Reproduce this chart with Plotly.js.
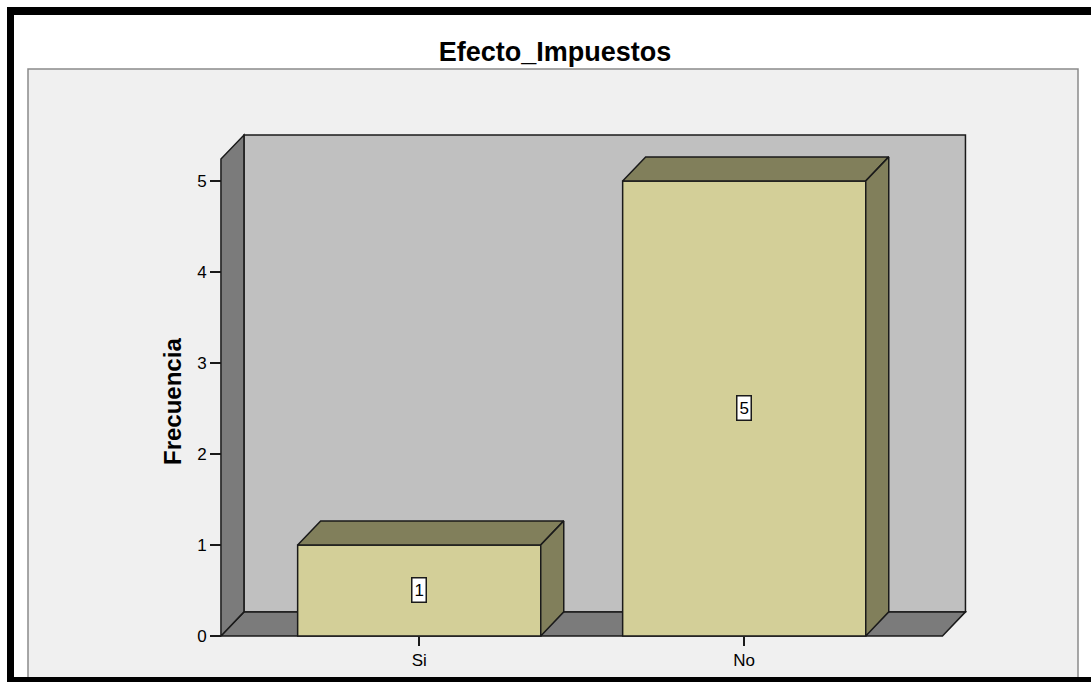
<!DOCTYPE html>
<html>
<head>
<meta charset="utf-8">
<script src="https://cdn.plot.ly/plotly-3.0.1.min.js"></script>
<style>
  html, body { margin: 0; padding: 0; background: #fff; }
  #chart { width: 1091px; height: 682px; }
</style>
</head>
<body>
<div id="chart"></div>
<script>
// Datos del grafico
const categorias = ['Si', 'No'];
const frecuencias = [1, 5];
const ticksY = [0, 1, 2, 3, 4, 5];

const colores = {
    frente: '#d3cf98',
    lado: '#817f5b',
    fondo: '#c0c0c0',
    pared: '#7b7b7b',
    marco: '#f0f0f0',
    borde: '#1a1a1a'
};
const fuente = 'Liberation Sans, Arial, sans-serif';

// geometria 3D (en unidades de los ejes)
const posiciones = categorias.map((c, i) => i);
const anchoBarra = 0.748;
const profX = 0.0708, profY = 0.264;
const xIni = -0.61, xFin = 1.61, yTope = 5.24;

// area del grafico en pixeles, para decoraciones en coordenadas "paper"
const m = { l: 219, r: 122, t: 132, b: 45 };
const anchoArea = 1091 - m.l - m.r, altoArea = 682 - m.t - m.b;
const px = x => (x - m.l) / anchoArea;
const py = y => (682 - m.b - y) / altoArea;

function poligono(puntos) {
    return 'M' + puntos.map(p => p[0] + ',' + p[1]).join('L') + 'Z';
}

// Frente de las barras
const traces = [{
    type: 'bar',
    x: posiciones,
    y: frecuencias,
    width: anchoBarra,
    marker: { color: colores.frente, line: { color: colores.borde, width: 1.5 } },
    hoverinfo: 'skip',
    showlegend: false
}];

// Caras superior y lateral de cada barra
posiciones.forEach((x, i) => {
    const v = frecuencias[i];
    const x0 = x - anchoBarra / 2, x1 = x + anchoBarra / 2;
    const caras = [
        [[x0, v], [x0 + profX, v + profY], [x1 + profX, v + profY], [x1, v]],
        [[x1, 0], [x1, v], [x1 + profX, v + profY], [x1 + profX, profY]]
    ];
    caras.forEach(c => {
        traces.push({
            type: 'scatter',
            mode: 'lines',
            x: c.map(p => p[0]).concat([c[0][0]]),
            y: c.map(p => p[1]).concat([c[0][1]]),
            fill: 'toself',
            fillcolor: colores.lado,
            line: { color: colores.borde, width: 1.5 },
            hoverinfo: 'skip',
            showlegend: false
        });
    });
});

const shapes = [
    // marco gris
    { type: 'rect', xref: 'paper', yref: 'paper', layer: 'below',
      x0: px(28), x1: px(1078), y0: py(700), y1: py(69),
      fillcolor: colores.marco, line: { color: '#8a8a8a', width: 1.5 } },
    // borde negro
    { type: 'rect', xref: 'paper', yref: 'paper', layer: 'below',
      x0: px(7), x1: px(1095), y0: py(15), y1: py(7),
      fillcolor: '#000', line: { width: 0 } },
    { type: 'rect', xref: 'paper', yref: 'paper', layer: 'below',
      x0: px(7), x1: px(14), y0: py(690), y1: py(7),
      fillcolor: '#000', line: { width: 0 } },
    { type: 'rect', xref: 'paper', yref: 'paper', layer: 'below',
      x0: px(7), x1: px(1095), y0: py(690), y1: py(677),
      fillcolor: '#000', line: { width: 0 } },
    // pared del fondo
    { type: 'path', xref: 'x', yref: 'y', layer: 'below',
      path: poligono([[xIni + profX, profY], [xFin + profX, profY], [xFin + profX, yTope + profY], [xIni + profX, yTope + profY]]),
      fillcolor: colores.fondo, line: { color: colores.borde, width: 1.5 } },
    // piso
    { type: 'path', xref: 'x', yref: 'y', layer: 'below',
      path: poligono([[xIni, 0], [xFin, 0], [xFin + profX, profY], [xIni + profX, profY]]),
      fillcolor: colores.pared, line: { color: colores.borde, width: 1.5 } },
    // pared izquierda
    { type: 'path', xref: 'x', yref: 'y', layer: 'below',
      path: poligono([[xIni, 0], [xIni, yTope], [xIni + profX, yTope + profY], [xIni + profX, profY]]),
      fillcolor: colores.pared, line: { color: colores.borde, width: 1.5 } }
];

// etiquetas de valor
const annotations = posiciones.map((x, i) => ({
    x: x, y: frecuencias[i] / 2, xref: 'x', yref: 'y',
    text: String(frecuencias[i]), showarrow: false,
    font: { family: fuente, size: 17, color: '#000' },
    bgcolor: '#fff', bordercolor: colores.borde, borderwidth: 1.5, borderpad: 2
}));
annotations.push({
    xref: 'paper', yref: 'paper', x: px(172), y: py(402),
    xanchor: 'center', yanchor: 'middle',
    text: 'Frecuencia', textangle: -90, showarrow: false,
    font: { family: fuente, size: 24, color: '#000', weight: 'bold' }
});

const layout = {
    width: 1091,
    height: 682,
    margin: m,
    paper_bgcolor: '#fff',
    plot_bgcolor: colores.marco,
    title: {
        text: 'Efecto_Impuestos',
        font: { family: fuente, size: 27, color: '#000', weight: 'bold' },
        x: 555 / 1091, xanchor: 'center',
        y: 1 - 52 / 682, yanchor: 'middle', yref: 'container'
    },
    xaxis: {
        range: [-0.616, -0.616 + anchoArea / 325],
        tickvals: posiciones,
        ticktext: categorias,
        ticks: 'outside', ticklen: 9, tickwidth: 1.5, tickcolor: colores.borde,
        tickfont: { family: fuente, size: 17, color: '#000' },
        showgrid: false, zeroline: false, showline: false,
        anchor: 'free', position: 1 / altoArea
    },
    yaxis: {
        range: [-0.012, -0.012 + altoArea / 91],
        tickvals: ticksY,
        ticks: 'outside', ticklen: 11, tickwidth: 1.5, tickcolor: colores.borde,
        tickfont: { family: fuente, size: 17, color: '#000' },
        showgrid: false, zeroline: false, showline: false,
        anchor: 'free', position: 2 / anchoArea
    },
    shapes: shapes,
    annotations: annotations,
    showlegend: false,
    bargap: 0
};

Plotly.newPlot('chart', traces, layout, { displayModeBar: false, staticPlot: true });
</script>
</body>
</html>
